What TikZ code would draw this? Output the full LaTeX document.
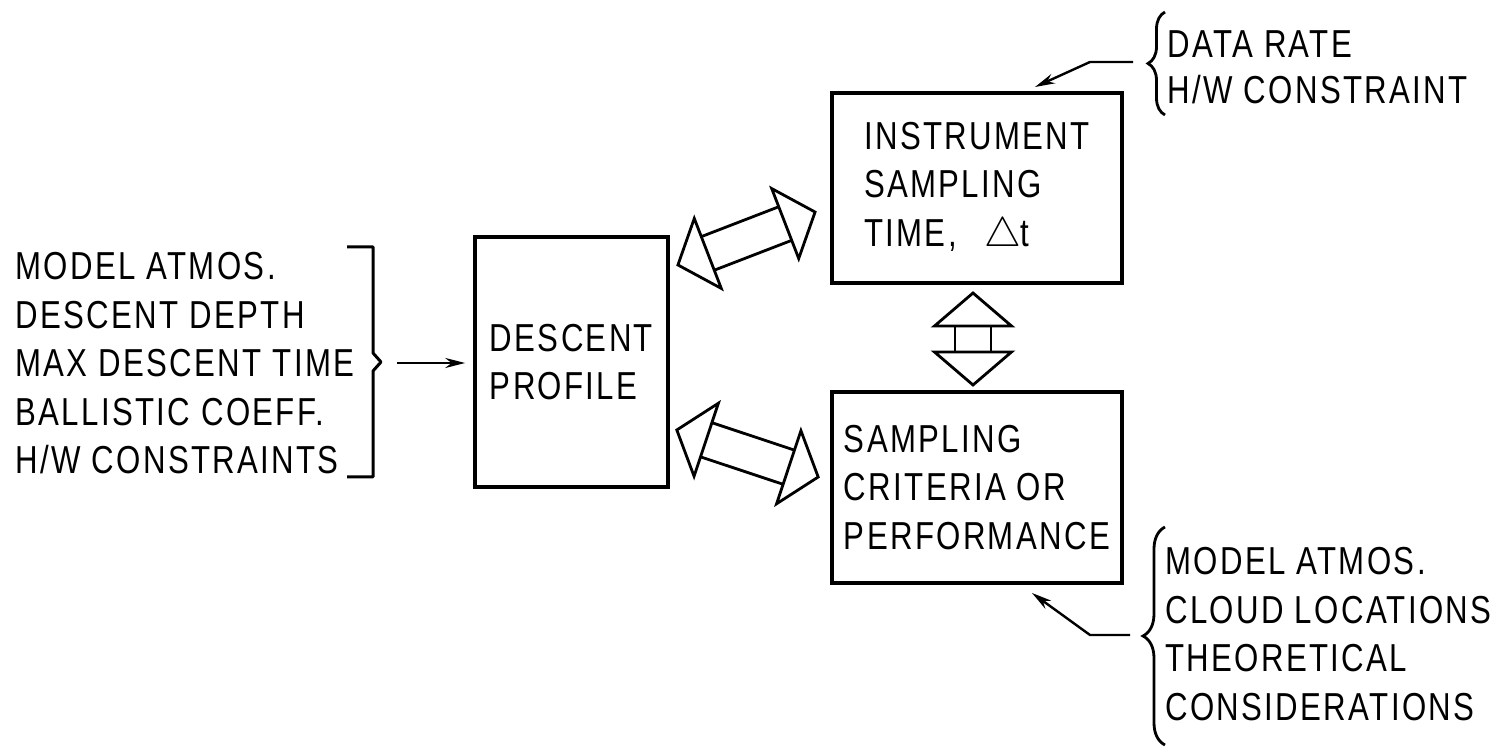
\documentclass[tikz,border=0pt]{standalone}
\usepackage{fontspec}
\setmainfont{Liberation Sans}[FakeStretch=0.8,LetterSpace=6]
\usetikzlibrary{arrows.meta,decorations.pathreplacing}
\newcommand{\fatarrow}[5]{%
  \begin{scope}[shift={#1},rotate=#2]
    \pgfmathsetmacro\fatA{#3/2}
    \pgfmathsetmacro\fatB{#3/2-#4}
    \pgfmathsetmacro\fatH{#5/2}
    \draw[fat] (-\fatA,0) -- (-\fatB,-\fatH) -- (-\fatB,\fatH) -- cycle;
    \draw[fat] (\fatA,0) -- (\fatB,-\fatH) -- (\fatB,\fatH) -- cycle;
    \draw[fat] (-\fatB,-18) -- (\fatB,-18) (-\fatB,18) -- (\fatB,18);
  \end{scope}}
\begin{document}
\begin{tikzpicture}[x=0.5pt,y=-0.5pt,
  txt/.style={font=\fontsize{19.5}{24.25}\selectfont, align=left, inner sep=0pt},
  blk/.style={draw, line width=1.8pt, txt},
  fat/.style={line width=1.4pt, line join=miter},
  lead/.style={line width=1.2pt, -{Stealth[open,length=10pt,width=5pt]}},
  brk/.style={line width=1.5pt, line join=round},
  brc/.style={line width=1.4pt, decorate, decoration={brace, amplitude=#1}}
]
\useasboundingbox (0,0) rectangle (1501,747);

% boxes
\node[blk, minimum width=96.5pt, minimum height=125pt] (desc) at (571.5,362) {DESCENT\\PROFILE};
\node[blk, minimum width=145pt, minimum height=95pt] (inst) at (977,188) {INSTRUMENT\\SAMPLING\\TIME,\hspace{0.7em}$\triangle$t};
\node[blk, minimum width=145pt, minimum height=95.5pt] (samp) at (977,487.5) {SAMPLING\\CRITERIA OR\\PERFORMANCE};

% left inputs
\node[txt, anchor=north west] (inputs) at (15,252) {MODEL ATMOS.\\DESCENT DEPTH\\MAX DESCENT TIME\\BALLISTIC COEFF.\\H/W CONSTRAINTS};
\draw[brk] (347,247) -- (373,247) -- (373,353) -- (381,362) -- (373,371) -- (373,477) -- (347,477);
\coordinate (lstart) at (397,363);
\draw[lead, shorten >=4pt] (lstart) -- (lstart -| desc.west);

% fat double arrows
\coordinate (ua) at (746.5,238.5);
\coordinate (la) at (747.5,453.5);
\coordinate (va) at (973,339);
\fatarrow{(ua)}{21.1}{147}{32}{75}
\fatarrow{(la)}{-18.4}{149}{31}{77}
\fatarrow{(va)}{90}{92}{33}{77}

% top right annotation
\node[txt, anchor=north west, font=\fontsize{19.5}{23}\selectfont] (hw) at (1167,30) {DATA RATE\\H/W CONSTRAINT};
\draw[brc=8.5pt] (1165,115) -- (1165,12);
\coordinate (t1) at (1133,62);
\coordinate (t2) at (1090,62);
\coordinate (t3) at (1035,87);
\draw[lead] (t1) -- (t2) -- (t3);

% bottom right annotation
\node[txt, anchor=north west] (crit) at (1165,547) {MODEL ATMOS.\\CLOUD LOCATIONS\\THEORETICAL\\CONSIDERATIONS};
\draw[brc=11pt] (1165,745) -- (1165,527);
\coordinate (b1) at (1130,635);
\coordinate (b2) at (1090,635);
\coordinate (b3) at (1032,593);
\draw[lead] (b1) -- (b2) -- (b3);
\end{tikzpicture}
\end{document}
